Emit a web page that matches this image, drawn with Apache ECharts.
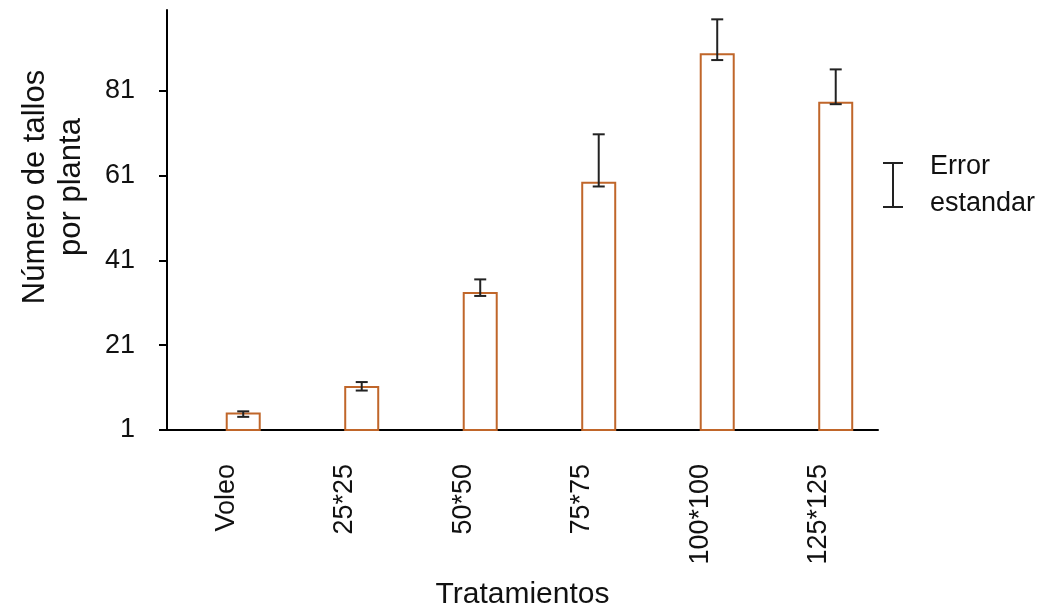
<!DOCTYPE html>
<html>
<head>
<meta charset="utf-8">
<script src="https://cdn.jsdelivr.net/npm/echarts@6/dist/echarts.min.js"></script>
<style>
  html, body { margin: 0; padding: 0; background: #fff; }
  #chart { width: 1060px; height: 613px; }
</style>
</head>
<body>
<div id="chart"></div>
<script>
const categories = ['Voleo', '25*25', '50*50', '75*75', '100*100', '125*125'];
const tallos = [5.1, 11.4, 33.5, 59.5, 89.8, 78.4];
const errLow = [4.1, 10.3, 32.6, 58.4, 88.2, 77.8];
const errHigh = [5.4, 12.3, 36.5, 70.7, 97.8, 86.0];
const yTicks = [1, 21, 41, 61, 81];

const BAR_W = 35;
const BAR_GAP = -0.03;
// visible bar sits in the second slot, shifted right of the category centre
const barShift = (BAR_W + BAR_W * BAR_GAP) / 2;

const chart = echarts.init(document.getElementById('chart'));
const font = 'Liberation Sans, Arial, sans-serif';

chart.setOption({
  animation: false,
  textStyle: { fontFamily: font },
  grid: { left: 167, right: 182, top: 10, bottom: 183, outerBoundsMode: 'none' },
  legend: {
    data: ['Error\nestandar'],
    left: 878,
    top: 143,
    itemWidth: 20,
    itemHeight: 46,
    icon: 'path://M0,0H20V2H11V44H20V46H0V44H9V2H0Z',
    itemStyle: { color: '#222' },
    textStyle: { fontSize: 27, color: '#111', lineHeight: 37, padding: [0, 0, 0, 22], fontFamily: font }
  },
  xAxis: {
    type: 'category',
    data: categories,
    name: 'Tratamientos',
    nameLocation: 'middle',
    nameGap: 150,
    nameTextStyle: { fontSize: 30, color: '#111' },
    axisLine: { lineStyle: { color: '#000', width: 2 } },
    axisTick: { length: 9, lineStyle: { color: '#000', width: 2 } },
    axisLabel: { rotate: 90, margin: 34, fontSize: 27, color: '#111' }
  },
  yAxis: {
    type: 'value',
    min: 1,
    max: 100,
    interval: 20,
    name: 'Número de tallos\npor planta',
    nameLocation: 'middle',
    nameRotate: 90,
    nameGap: 78,
    nameTextStyle: { fontSize: 31, color: '#111', lineHeight: 36, padding: [0, 0, 0, 66] },
    splitLine: { show: false },
    axisLine: { show: true, lineStyle: { color: '#000', width: 2 } },
    axisTick: { show: true, length: 8, customValues: yTicks, lineStyle: { color: '#000', width: 2 } },
    axisLabel: { margin: 32, fontSize: 27, color: '#111', customValues: yTicks }
  },
  series: [
    {
      name: 'blank',
      type: 'bar',
      barWidth: BAR_W,
      barGap: (BAR_GAP * 100) + '%',
      data: categories.map(() => null)
    },
    {
      name: 'Tallos',
      type: 'bar',
      barWidth: BAR_W,
      barGap: (BAR_GAP * 100) + '%',
      data: tallos,
      itemStyle: { color: '#fff', borderColor: '#c0662a', borderWidth: 2 }
    },
    {
      name: 'Error\nestandar',
      type: 'custom',
      z: 5,
      itemStyle: { color: '#222' },
      data: categories.map((c, i) => [i, errLow[i], errHigh[i]]),
      renderItem: function (params, api) {
        const lo = api.coord([api.value(0), api.value(1)]);
        const hi = api.coord([api.value(0), api.value(2)]);
        const x = lo[0] + barShift;
        const cap = 6;
        const style = { stroke: '#222', lineWidth: 2 };
        return {
          type: 'group',
          children: [
            { type: 'line', shape: { x1: x, y1: hi[1], x2: x, y2: lo[1] }, style: style },
            { type: 'line', shape: { x1: x - cap, y1: hi[1], x2: x + cap, y2: hi[1] }, style: style },
            { type: 'line', shape: { x1: x - cap, y1: lo[1], x2: x + cap, y2: lo[1] }, style: style }
          ]
        };
      }
    }
  ]
});
</script>
</body>
</html>
